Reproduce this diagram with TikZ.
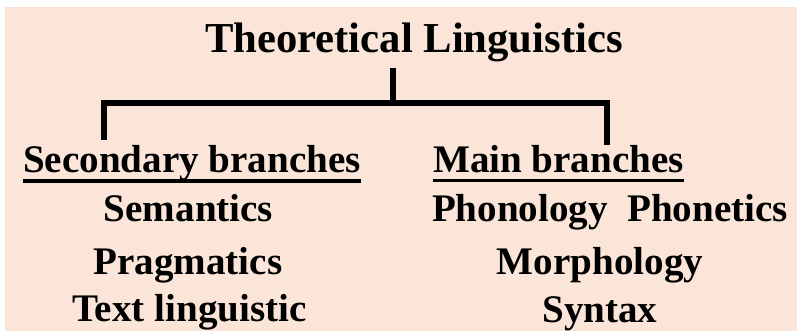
\documentclass[tikz,border=0pt]{standalone}
\usepackage{fontspec}
\setmainfont{Liberation Serif}
\definecolor{peach}{RGB}{250,229,216}
\tikzset{
  titletext/.style={inner sep=0pt, anchor=base, font=\fontsize{32}{36}\selectfont\bfseries},
  bodytext/.style={inner sep=0pt, anchor=base, font=\fontsize{29.3}{33}\selectfont\bfseries},
  branch/.style={line width=4.8pt, line join=miter, line cap=rect},
  ul/.style={line width=2.6pt},
}
\begin{document}
\begin{tikzpicture}[x=0.75pt,y=-0.75pt]
\useasboundingbox (0,0) rectangle (797,331);
\fill[white] (0,0) rectangle (797,331);
\fill[peach] (5,7) rectangle (797,331);
% texts
\node[titletext] (title) at (414,53) {Theoretical Linguistics};
\node[bodytext] (sec) at (192,173) {Secondary branches};
\node[bodytext] (sem) at (188.5,222) {Semantics};
\node[bodytext] (prag) at (188,275) {Pragmatics};
\node[bodytext] (textl) at (189.5,322) {Text linguistic};
\node[bodytext] (main) at (558.5,173) {Main branches};
\node[bodytext] (phon) at (610,222) {Phonology\ \ Phonetics};
\node[bodytext] (morph) at (600,275) {Morphology};
\node[bodytext] (syn) at (600,323) {Syntax};
% underlines
\draw[ul] ([yshift=-6pt]sec.base west) -- ([yshift=-6pt]sec.base east);
\draw[ul] ([yshift=-5.5pt]main.base west) -- ([yshift=-5.5pt]main.base east);
% tree connectors
\coordinate (stemtop) at (393,68);
\coordinate (junction) at (393,103);
\coordinate (lend) at (104,140);
\coordinate (rend) at (607,145);
\draw[branch, line cap=butt] (stemtop) -- (junction);
\draw[branch, line cap=butt] (lend) |- (junction) -| (rend);
\end{tikzpicture}
\end{document}
